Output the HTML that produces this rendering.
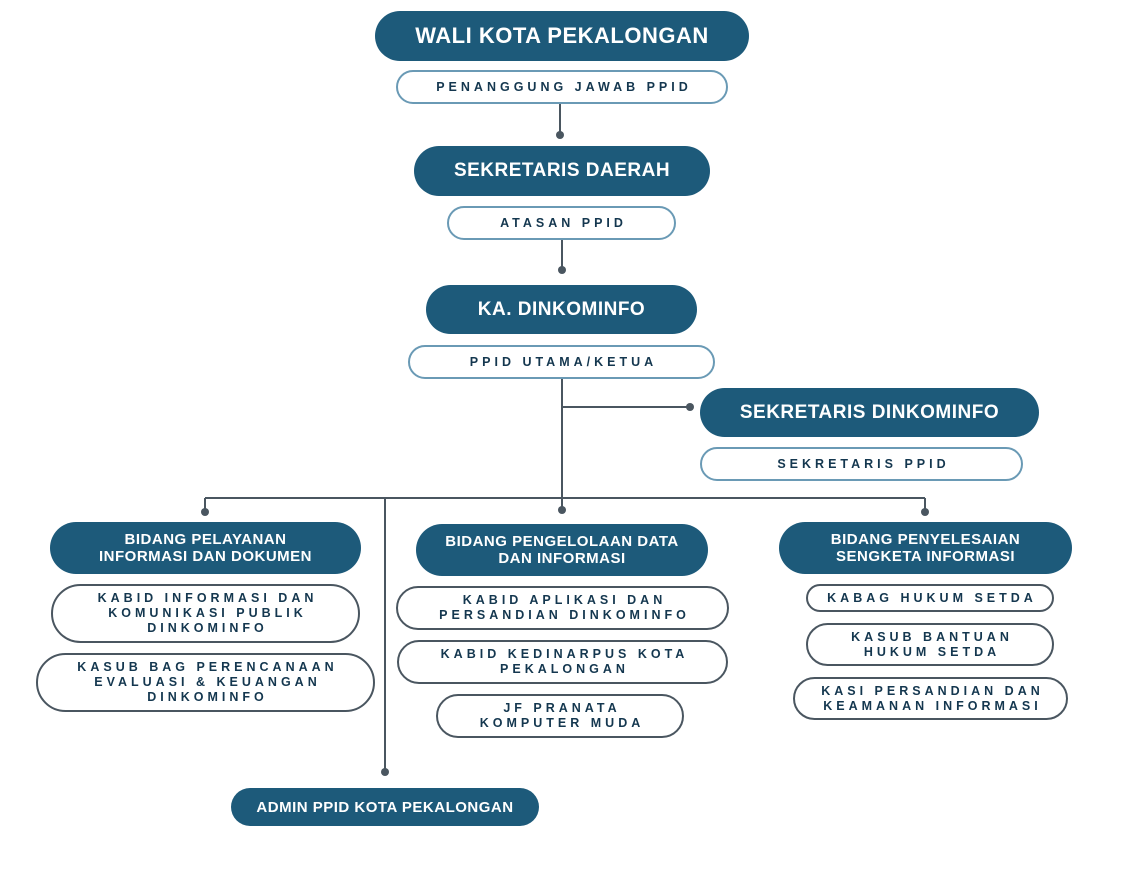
<!DOCTYPE html>
<html><head><meta charset="utf-8"><style>
body{margin:0;width:1124px;height:886px;background:#fff;position:relative;overflow:hidden;font-family:"Liberation Sans",sans-serif}
.b{position:absolute;box-sizing:border-box;display:flex;align-items:center;justify-content:center;text-align:center;font-weight:bold}
.d{background:#1d5a7a;color:#fff;border-radius:26px;letter-spacing:0.5px}
.s{background:#fff;color:#14374f;border:2px solid #4a5660;border-radius:24px;font-size:12.5px;letter-spacing:4px;line-height:15px;padding-left:4px}
.l{border-color:#6a9ab5}
</style></head><body>
<svg width="1124" height="886" style="position:absolute;left:0;top:0">
<g stroke="#4a5660" stroke-width="2" fill="none">
<line x1="560" y1="104" x2="560" y2="135"/>
<line x1="562" y1="240" x2="562" y2="270"/>
<line x1="562" y1="379" x2="562" y2="510"/>
<line x1="562" y1="407" x2="690" y2="407"/>
<line x1="205" y1="498" x2="925" y2="498"/>
<line x1="205" y1="498" x2="205" y2="512"/>
<line x1="925" y1="498" x2="925" y2="512"/>
<line x1="385" y1="498" x2="385" y2="772"/>
</g>
<g fill="#4a5660">
<circle cx="560" cy="135" r="4"/><circle cx="562" cy="270" r="4"/><circle cx="690" cy="407" r="4"/>
<circle cx="205" cy="512" r="4"/><circle cx="562" cy="510" r="4"/><circle cx="925" cy="512" r="4"/><circle cx="385" cy="772" r="4"/>
</g></svg>
<div class="b d" style="left:375px;top:11px;width:374px;height:50px;font-size:22px">WALI KOTA PEKALONGAN</div>
<div class="b s l" style="left:396px;top:70px;width:332px;height:34px">PENANGGUNG JAWAB PPID</div>
<div class="b d" style="left:414px;top:146px;width:296px;height:50px;font-size:19px">SEKRETARIS DAERAH</div>
<div class="b s l" style="left:447px;top:206px;width:229px;height:34px">ATASAN PPID</div>
<div class="b d" style="left:426px;top:285px;width:271px;height:49px;font-size:19px">KA. DINKOMINFO</div>
<div class="b s l" style="left:408px;top:345px;width:307px;height:34px">PPID UTAMA/KETUA</div>
<div class="b d" style="left:700px;top:388px;width:339px;height:49px;font-size:19px">SEKRETARIS DINKOMINFO</div>
<div class="b s l" style="left:700px;top:447px;width:323px;height:34px">SEKRETARIS PPID</div>
<div class="b d" style="left:50px;top:522px;width:311px;height:52px;font-size:15px;line-height:17px">BIDANG PELAYANAN<br>INFORMASI DAN DOKUMEN</div>
<div class="b s" style="left:51px;top:584px;width:309px;height:59px;border-radius:30px">KABID INFORMASI DAN<br>KOMUNIKASI PUBLIK<br>DINKOMINFO</div>
<div class="b s" style="left:36px;top:653px;width:339px;height:59px;border-radius:30px">KASUB BAG PERENCANAAN<br>EVALUASI &amp; KEUANGAN<br>DINKOMINFO</div>
<div class="b d" style="left:416px;top:524px;width:292px;height:52px;font-size:15px;line-height:17px">BIDANG PENGELOLAAN DATA<br>DAN INFORMASI</div>
<div class="b s" style="left:396px;top:586px;width:333px;height:44px">KABID APLIKASI DAN<br>PERSANDIAN DINKOMINFO</div>
<div class="b s" style="left:397px;top:640px;width:331px;height:44px">KABID KEDINARPUS KOTA<br>PEKALONGAN</div>
<div class="b s" style="left:436px;top:694px;width:248px;height:44px">JF PRANATA<br>KOMPUTER MUDA</div>
<div class="b d" style="left:779px;top:522px;width:293px;height:52px;font-size:15px;line-height:17px">BIDANG PENYELESAIAN<br>SENGKETA INFORMASI</div>
<div class="b s" style="left:806px;top:584px;width:248px;height:28px">KABAG HUKUM SETDA</div>
<div class="b s" style="left:806px;top:623px;width:248px;height:43px">KASUB BANTUAN<br>HUKUM SETDA</div>
<div class="b s" style="left:793px;top:677px;width:275px;height:43px">KASI PERSANDIAN DAN<br>KEAMANAN INFORMASI</div>
<div class="b d" style="left:231px;top:788px;width:308px;height:38px;font-size:15px;border-radius:19px">ADMIN PPID KOTA PEKALONGAN</div>
</body></html>
